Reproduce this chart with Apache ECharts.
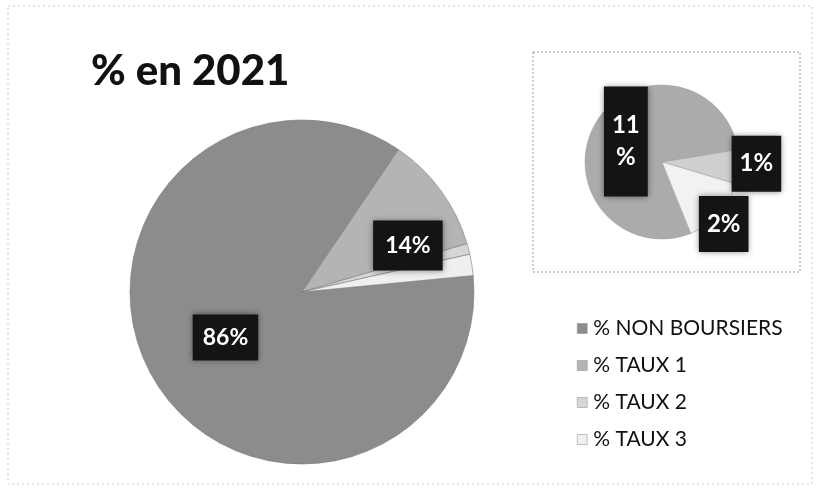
<!DOCTYPE html>
<html><head><meta charset="utf-8">
<script src="https://cdn.jsdelivr.net/npm/echarts@6/dist/echarts.min.js"></script>
<style>html,body{margin:0;padding:0;background:#fff}#c{width:819px;height:488px}</style>
</head><body><div id="c"></div>
<script>
// ---- data ----
const categories = ['% NON BOURSIERS', '% TAUX 1', '% TAUX 2', '% TAUX 3'];
const values = [86, 11, 1, 2];
const mainLabels = ['86%', '14%', '', ''];
const insetCategories = ['% TAUX 1', '% TAUX 2', '% TAUX 3'];
const insetValues = [11, 1, 2];
const insetLabels = ['11\n%', '1%', '2%'];
const titleText = '% en 2021';

// ---- styles ----
const colors = ['#8c8c8c', '#b4b4b4', '#d6d6d6', '#efefef'];
const insetColors = ['#ababab', '#cfcfcf', '#f2f2f2'];
const mainNudge = [{dx: 0, dy: 0}, {dx: 34, dy: 6}, {}, {}];
const insetNudge = [{dx: 0, dy: 0}, {dx: 53, dy: -1}, {dx: 31, dy: 34}];
const FONT = 'Lato';

const labelBox = {
  show: true, position: 'inside', color: '#fff', fontFamily: FONT, fontWeight: 'bold',
  fontSize: 23, backgroundColor: '#141414', shadowColor: 'rgba(0,0,0,0.45)', shadowBlur: 6
};

const chart = echarts.init(document.getElementById('c'), null, {renderer: 'canvas'});
chart.setOption({
  backgroundColor: '#fff',
  animation: false,
  title: {
    text: titleText, left: 86, top: 45,
    textStyle: {fontFamily: FONT, fontWeight: 900, fontSize: 42, color: '#111'}
  },
  legend: {
    orient: 'vertical', left: 572, top: 313, itemGap: 16,
    itemWidth: 10, itemHeight: 10, icon: 'rect',
    data: categories.map((n, i) => ({name: n, itemStyle: {color: colors[i], borderColor: '#888', borderWidth: 0.5}})),
    textStyle: {fontFamily: FONT, fontSize: 21, color: '#111', padding: [0, 0, 0, 1]},
    selectedMode: false
  },
  graphic: [
    {type: 'rect', silent: true, shape: {x: 533, y: 52, width: 267, height: 220},
     style: {fill: 'none', stroke: '#9a9a9a', lineWidth: 1, lineDash: [2, 2]}},
    {type: 'rect', silent: true, shape: {x: 8, y: 6, width: 804, height: 478},
     style: {fill: 'none', stroke: '#c8c8c8', lineWidth: 1, lineDash: [2, 3]}}
  ],
  series: [
    {
      type: 'pie', center: [302, 292], radius: 172, startAngle: 5.5, clockwise: true,
      avoidLabelOverlap: false, silent: true,
      itemStyle: {borderColor: '#7a7a7a', borderWidth: 0.6},
      label: Object.assign({}, labelBox, {formatter: p => mainLabels[p.dataIndex]}),
      labelLine: {show: false},
      labelLayout: p => mainNudge[p.dataIndex],
      data: values.map((v, i) => ({
        name: categories[i], value: v, itemStyle: {color: colors[i]},
        label: {show: mainLabels[i] !== '', padding: i === 0 ? [12, 10, 11, 10] : [14, 12, 13, 12]}
      }))
    },
    {
      type: 'pie', center: [662, 162], radius: 77, startAngle: 292, clockwise: true,
      avoidLabelOverlap: false, silent: true,
      itemStyle: {borderColor: '#9a9a9a', borderWidth: 0.5},
      label: Object.assign({}, labelBox, {fontSize: 24, lineHeight: 32, formatter: p => insetLabels[p.dataIndex]}),
      labelLine: {show: false},
      labelLayout: p => insetNudge[p.dataIndex],
      data: insetValues.map((v, i) => ({
        name: insetCategories[i], value: v, itemStyle: {color: insetColors[i]},
        label: {padding: i === 0 ? [23, 8, 23, 8] : [12, 8, 12, 8]}
      }))
    }
  ]
});
</script></body></html>
